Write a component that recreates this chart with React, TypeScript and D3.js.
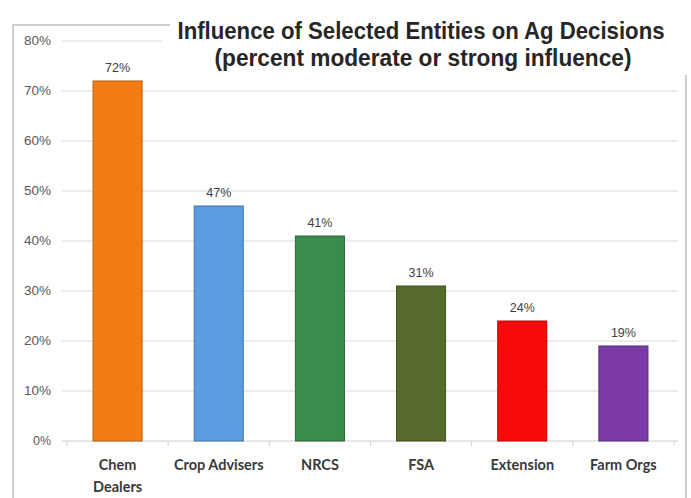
import React from "react";
import * as d3 from "d3";

const categories = ["Chem Dealers", "Crop Advisers", "NRCS", "FSA", "Extension", "Farm Orgs"];
const values = [72, 47, 41, 31, 24, 19];
const barColors = ["#f47c14", "#5b9be1", "#3b8b4c", "#566a2b", "#f70a0a", "#7b3aa6"];
const yTicks = [0, 10, 20, 30, 40, 50, 60, 70, 80];
const titleLines = ["Influence of Selected Entities on Ag Decisions", "(percent moderate or strong influence)"];

const W = 691;
const H = 498;

export default function App() {
  const x = d3.scaleBand<string>().domain(categories).range([67, 674]).paddingInner(0.515).paddingOuter(0.2575);
  const y = d3.scaleLinear().domain([0, 80]).range([441, 41]);
  const step = x.step();
  const catFont = "Lato, 'Open Sans', sans-serif";

  return (
    <svg width={W} height={H} style={{ position: "fixed", left: 0, top: 0, background: "#fff" }}>
      <rect x={0} y={0} width={W} height={H} fill="#fff" />
      {/* frame */}
      <path d={`M13,${H} L13,25 L170,25`} fill="none" stroke="#bfbfbf" strokeWidth={1.5} />
      <path d={`M686,75 L686,${H}`} fill="none" stroke="#bfbfbf" strokeWidth={1.5} />
      {/* gridlines */}
      {yTicks.map((t) => (
        <line key={t} x1={62} x2={t === 80 ? 162 : 678} y1={y(t)} y2={y(t)} stroke={t === 0 ? "#d0d0d0" : "#d9d9d9"} strokeWidth={1.2} />
      ))}
      {/* category ticks */}
      {d3.range(categories.length + 1).map((i) => {
        const xx = (x.range()[0] as number) + i * step;
        return <line key={i} x1={xx} x2={xx} y1={y(0)} y2={y(0) + 5} stroke="#d0d0d0" strokeWidth={1} />;
      })}
      {/* y labels */}
      {yTicks.map((t) => (
        <text key={t} x={51} y={y(t) + 4} textAnchor="end" fontSize={12} fill="#595959" fontFamily="'Liberation Sans', Arial, sans-serif" textLength={t === 0 ? 18 : 27} lengthAdjust="spacingAndGlyphs">
          {t}%
        </text>
      ))}
      {/* bars */}
      {categories.map((c, i) => {
        const col = d3.color(barColors[i])!;
        return (
          <rect key={c} x={x(c)} y={y(values[i])} width={x.bandwidth()} height={y(0) - y(values[i])} fill={barColors[i]} stroke={col.darker(0.8).toString()} strokeWidth={1} />
        );
      })}
      {/* value labels */}
      {categories.map((c, i) => (
        <text key={c} x={(x(c) as number) + x.bandwidth() / 2} y={y(values[i]) - 9} textAnchor="middle" fontSize={12.5} fill="#404040" fontFamily="'Liberation Sans', Arial, sans-serif">
          {values[i]}%
        </text>
      ))}
      {/* category labels */}
      {categories.map((c) => {
        const cx = (x(c) as number) + x.bandwidth() / 2;
        const lines = c === "Chem Dealers" ? ["Chem", "Dealers"] : [c];
        return (
          <text key={c} textAnchor="middle" fontSize={14.5} fontWeight="bold" fill="#3a3a3a" fontFamily={catFont}>
            {lines.map((l, k) => (
              <tspan key={k} x={cx} y={470 + k * 22}>
                {l}
              </tspan>
            ))}
          </text>
        );
      })}
      {/* title */}
      <text x={421} y={39} textAnchor="middle" fontSize={23} fontWeight="bold" fill="#262626" fontFamily="'Liberation Sans', Arial, sans-serif" textLength={487} lengthAdjust="spacingAndGlyphs">
        {titleLines[0]}
      </text>
      <text x={423} y={66} textAnchor="middle" fontSize={23} fontWeight="bold" fill="#262626" fontFamily="'Liberation Sans', Arial, sans-serif" textLength={417} lengthAdjust="spacingAndGlyphs">
        {titleLines[1]}
      </text>
    </svg>
  );
}
